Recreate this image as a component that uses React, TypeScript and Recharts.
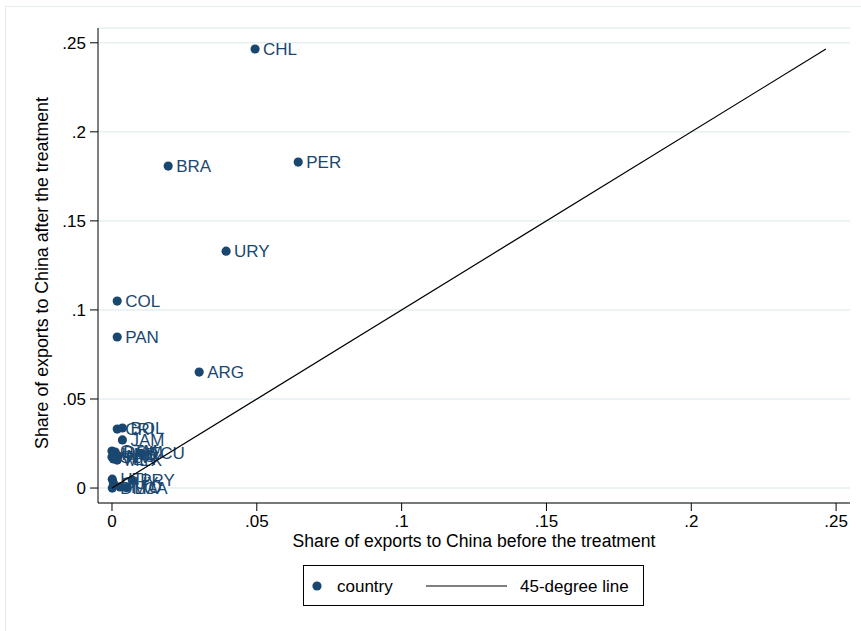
import React from 'react';
import { ScatterChart, Scatter, XAxis, YAxis, CartesianGrid } from 'recharts';

// countries and their share of exports to China, before / after the treatment
const countries = ['CHL', 'PER', 'BRA', 'URY', 'COL', 'PAN', 'ARG', 'CRI', 'BOL', 'JAM', 'GTM', 'HND',
    'SLV', 'DOM', 'NIC', 'ECU', 'MEX', 'VEN', 'PRY', 'HTI', 'GUY', 'LCA', 'DMA', 'TTO'];
const shareBefore = [0.0494, 0.0643, 0.0194, 0.0394, 0.0018, 0.0018, 0.0301, 0.0018, 0.0036, 0.0036, 0.0000, 0.0005,
    0.0000, 0.0011, 0.0022, 0.0100, 0.0018, 0.0005, 0.0070, 0.0001, 0.0005, 0.0050, 0.0001, 0.0028];
const shareAfter = [0.2465, 0.1830, 0.1808, 0.1330, 0.1050, 0.0848, 0.0651, 0.0331, 0.0337, 0.0270, 0.0208, 0.0191,
    0.0174, 0.0202, 0.0180, 0.0195, 0.0157, 0.0163, 0.0045, 0.0050, 0.0028, 0.0002, 0.0000, 0.0006];

// 45-degree line end points
const lineBefore = [0, 0.2465];
const lineAfter = [0, 0.2465];

const ticks = [0, 0.05, 0.1, 0.15, 0.2, 0.25];
const tickLabels = ['0', '.05', '.1', '.15', '.2', '.25'];

const NAVY = '#1a476f';
const FONT = '"Liberation Sans", Arial, sans-serif';

const pointData = countries.map((c, i) => ({ name: c, before: shareBefore[i], after: shareAfter[i] }));
const lineData = lineBefore.map((b, i) => ({ before: b, after: lineAfter[i] }));

const fmt = (v: number) => {
    const i = ticks.findIndex(t => Math.abs(t - v) < 1e-9);
    return i >= 0 ? tickLabels[i] : String(v);
};

const CountryDot = (props: any) => {
    const { cx, cy, payload } = props;
    return (
        <g>
            <circle cx={cx} cy={cy} r={4.6} fill={NAVY} />
            <text x={cx + 8} y={cy} dy="0.36em" fill={NAVY} fontSize={17} fontFamily={FONT}>
                {payload.name}
            </text>
        </g>
    );
};

const XTitle = (props: any) => {
    const vb = props.viewBox;
    return (
        <text x={vb.x + vb.width / 2} y={vb.y + 44} textAnchor="middle" fontSize={17.6} fontFamily={FONT} fill="#000">
            Share of exports to China before the treatment
        </text>
    );
};

const YTitle = () => {
    const cy = 273;
    return (
        <text x={42} y={cy} textAnchor="middle" dominantBaseline="central" transform={`rotate(-90, 42, ${cy})`}
              fontSize={17.8} fontFamily={FONT} fill="#000">
            Share of exports to China after the treatment
        </text>
    );
};

export default function App() {
    return (
        <div style={{ position: 'absolute', left: 0, top: 0, width: 861, height: 631, overflow: 'hidden', background: '#fff' }}>
            <div style={{ position: 'absolute', left: 5, top: 6, width: 900, height: 700, borderLeft: '1px solid #e4ecef', borderTop: '1px solid #e4ecef' }} />
            <ScatterChart width={861} height={631} margin={{ top: 28, right: 11, left: 0, bottom: 68 }}
                          style={{ position: 'absolute', left: 0, top: 0 }}>
                <CartesianGrid vertical={false} stroke="#e6eff2" strokeWidth={1.5} />
                <XAxis type="number" dataKey="before" domain={[-0.00483, 0.2548]} allowDataOverflow
                       ticks={ticks} tickFormatter={fmt} height={60} tickSize={8} tickMargin={4}
                       axisLine={{ stroke: '#000' }} tickLine={{ stroke: '#000' }}
                       tick={{ fill: '#000', fontSize: 17, fontFamily: FONT }}
                       label={<XTitle />} />
                <YAxis type="number" dataKey="after" domain={[-0.0084, 0.2583]} allowDataOverflow
                       ticks={ticks} tickFormatter={fmt} width={98} tickSize={8} tickMargin={4}
                       axisLine={{ stroke: '#000' }} tickLine={{ stroke: '#000' }}
                       tick={{ fill: '#000', fontSize: 17, fontFamily: FONT }}
                       label={<YTitle />} />
                <Scatter data={pointData} shape={<CountryDot />} isAnimationActive={false} />
                <Scatter data={lineData} line={{ stroke: '#000', strokeWidth: 1.2 }} shape={() => null}
                         isAnimationActive={false} />
            </ScatterChart>
            <div style={{ position: 'absolute', left: 303, top: 565, width: 339, height: 39, border: '1px solid #000',
                boxSizing: 'content-box', fontFamily: FONT, fontSize: 17, color: '#000' }}>
                <svg width={339} height={39} style={{ position: 'absolute', left: 0, top: 0 }}>
                    <circle cx={13} cy={20} r={4.6} fill={NAVY} />
                    <text x={33} y={20} dy="0.36em" fontSize={17} fontFamily={FONT}>country</text>
                    <line x1={122} x2={203} y1={20} y2={20} stroke="#000" strokeWidth={1.2} />
                    <text x={216} y={20} dy="0.36em" fontSize={17} fontFamily={FONT}>45-degree line</text>
                </svg>
            </div>
        </div>
    );
}
